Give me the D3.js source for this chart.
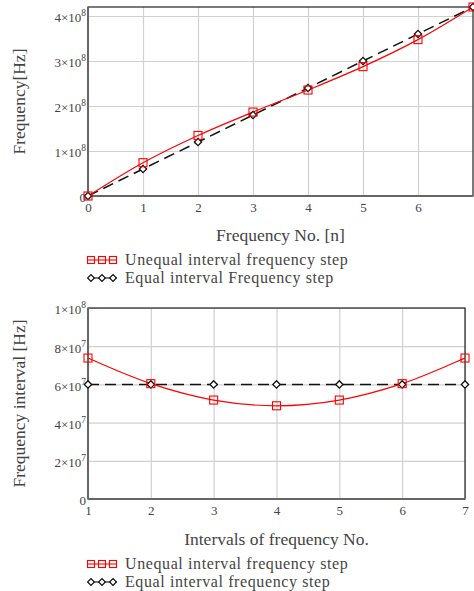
<!DOCTYPE html>
<html>
<head>
<meta charset="utf-8">
<script src="https://cdn.jsdelivr.net/npm/d3@7"></script>
<style>
  body { margin: 0; background: #fff; }
  text { font-family: "Liberation Serif", "DejaVu Serif", serif; fill: #444; }
</style>
</head>
<body>
<svg id="chart" width="474" height="591"></svg>
<script>
// === Data ===
const freqNo = [0, 1, 2, 3, 4, 5, 6, 7];
const unequalFreq = [0, 0.74e8, 1.345e8, 1.865e8, 2.355e8, 2.875e8, 3.475e8, 4.2e8];
const equalFreq = [0, 0.6e8, 1.2e8, 1.8e8, 2.4e8, 3.0e8, 3.6e8, 4.2e8];
const freqTicksY = [0, 1e8, 2e8, 3e8, 4e8];

const intervalNo = [1, 2, 3, 4, 5, 6, 7];
const unequalStep = [7.38e7, 6.04e7, 5.18e7, 4.88e7, 5.18e7, 6.04e7, 7.38e7];
const equalStep = [6e7, 6e7, 6e7, 6e7, 6e7, 6e7, 6e7];
const stepTicksY = [0, 2e7, 4e7, 6e7, 8e7, 1e8];

const svg = d3.select("#chart");

// "3×10^8" style labels with a raised exponent
function sciLabel(sel) {
  sel.each(function(d) {
    const t = d3.select(this).text("");
    if (d === 0) { t.text("0"); return; }
    const exp = Math.floor(Math.log10(d) + 1e-9);
    const mant = Math.round(d / Math.pow(10, exp));
    t.append("tspan").text(mant + "\u00d710");
    t.append("tspan").attr("dy", -6).style("font-size", "9.5px").text(exp);
  });
}

function drawPanel(cfg) {
  const { left, right, top, bottom } = cfg.box;
  const x = d3.scaleLinear().domain(cfg.xDomain).range([left, right]);
  const y = d3.scaleLinear().domain(cfg.yDomain).range([bottom, top]);
  const g = svg.append("g");

  // grid
  g.append("g").attr("transform", `translate(0,${bottom})`)
    .call(d3.axisBottom(x).tickValues(cfg.xTicks).tickSize(-(bottom - top)).tickFormat(""))
    .call(a => a.select(".domain").remove())
    .call(a => a.selectAll("line").attr("stroke", "#d0d0d0").attr("stroke-width", 1.2));
  g.append("g").attr("transform", `translate(${left},0)`)
    .call(d3.axisLeft(y).tickValues(cfg.yTicks).tickSize(-(right - left)).tickFormat(""))
    .call(a => a.select(".domain").remove())
    .call(a => a.selectAll("line").attr("stroke", "#d0d0d0").attr("stroke-width", 1.2));

  // frame
  g.append("rect").attr("x", left).attr("y", top).attr("width", right - left).attr("height", bottom - top)
    .attr("fill", "none").attr("stroke", "#222").attr("stroke-width", 1.2);
  g.append("line").attr("x1", left).attr("x2", left).attr("y1", top).attr("y2", bottom)
    .attr("stroke", "#666").attr("stroke-width", 2);
  g.append("line").attr("x1", left).attr("x2", right).attr("y1", bottom).attr("y2", bottom)
    .attr("stroke", "#666").attr("stroke-width", 2);

  // tick labels
  const xa = g.append("g").attr("transform", `translate(0,${bottom})`)
    .call(d3.axisBottom(x).tickValues(cfg.xTicks).tickSize(0).tickPadding(7).tickFormat(d3.format("d")));
  xa.select(".domain").remove();
  xa.selectAll("text").style("font-size", "13px").attr("fill", "#444")
    .style("font-family", "Liberation Serif, serif");

  const ya = g.append("g").attr("transform", `translate(${left},0)`)
    .call(d3.axisLeft(y).tickValues(cfg.yTicks).tickSize(0).tickPadding(2));
  ya.select(".domain").remove();
  ya.selectAll("text").style("font-size", "13px").attr("fill", "#444")
    .style("font-family", "Liberation Serif, serif").attr("dy", "0.45em").call(sciLabel);

  // axis titles
  svg.append("text").attr("x", (left + right) / 2).attr("y", cfg.xTitleY)
    .attr("text-anchor", "middle").style("font-size", "17.5px").text(cfg.xTitle);
  svg.append("text").attr("transform", `translate(25,${(top + bottom) / 2}) rotate(-90)`)
    .attr("text-anchor", "middle").style("font-size", "17.5px").text(cfg.yTitle);

  // series
  const redLine = d3.line().x((d, i) => x(cfg.xs[i])).y(d => y(d)).curve(d3.curveCatmullRom);
  const blackLine = d3.line().x((d, i) => x(cfg.xs[i])).y(d => y(d));

  g.append("path").datum(cfg.black).attr("d", blackLine).attr("fill", "none")
    .attr("stroke", "#111").attr("stroke-width", 1.5).attr("stroke-dasharray", "11,6");
  g.append("path").datum(cfg.red).attr("d", redLine).attr("fill", "none")
    .attr("stroke", "#f00").attr("stroke-width", 1.2);

  g.selectAll(".dia").data(cfg.black).enter().append("path")
    .attr("transform", (d, i) => `translate(${x(cfg.xs[i])},${y(d)}) rotate(45)`)
    .attr("d", "M-2.6,-2.6H2.6V2.6H-2.6Z")
    .attr("fill", "#fff").attr("stroke", "#111").attr("stroke-width", 1.3);
  g.selectAll(".sq").data(cfg.red).enter().append("rect")
    .attr("x", (d, i) => x(cfg.xs[i]) - 4).attr("y", d => y(d) - 4)
    .attr("width", 8).attr("height", 8)
    .attr("fill", "none").attr("stroke", "#f00").attr("stroke-width", 1.1);

  // legend
  const lg = svg.append("g");
  const entries = [
    { label: cfg.legend[0], kind: "sq", y: cfg.legendY },
    { label: cfg.legend[1], kind: "dia", y: cfg.legendY + 18 }
  ];
  entries.forEach(e => {
    const mx = [91, 102, 113];
    if (e.kind === "sq") {
      lg.append("line").attr("x1", 88).attr("x2", 117).attr("y1", e.y).attr("y2", e.y)
        .attr("stroke", "#f00").attr("stroke-width", 1.1);
      mx.forEach(m => lg.append("rect").attr("x", m - 3.5).attr("y", e.y - 3.5).attr("width", 7).attr("height", 7)
        .attr("fill", "none").attr("stroke", "#f00").attr("stroke-width", 1.1));
    } else {
      lg.append("line").attr("x1", 88).attr("x2", 117).attr("y1", e.y).attr("y2", e.y)
        .attr("stroke", "#111").attr("stroke-width", 1.1);
      mx.forEach(m => lg.append("path").attr("transform", `translate(${m},${e.y}) rotate(45)`)
        .attr("d", "M-2.4,-2.4H2.4V2.4H-2.4Z").attr("fill", "#fff").attr("stroke", "#111").attr("stroke-width", 1.2));
    }
    lg.append("text").attr("x", 125).attr("y", e.y + 5).style("font-size", "16px")
      .style("letter-spacing", "0.6px").text(e.label);
  });
}

drawPanel({
  box: { left: 88, right: 473, top: 7, bottom: 196 },
  xDomain: [0, 7], yDomain: [0, 4.2e8],
  xTicks: [0, 1, 2, 3, 4, 5, 6], yTicks: freqTicksY,
  xs: freqNo, red: unequalFreq, black: equalFreq,
  xTitle: "Frequency No. [n]", xTitleY: 241, yTitle: "Frequency[Hz]",
  legend: ["Unequal interval frequency step", "Equal interval Frequency step"], legendY: 260
});

drawPanel({
  box: { left: 88, right: 465, top: 308, bottom: 499 },
  xDomain: [1, 7], yDomain: [0, 1e8],
  xTicks: intervalNo, yTicks: stepTicksY,
  xs: intervalNo, red: unequalStep, black: equalStep,
  xTitle: "Intervals of frequency No.", xTitleY: 545, yTitle: "Frequency interval [Hz]",
  legend: ["Unequal interval frequency step", "Equal interval frequency step"], legendY: 564
});
</script>
</body>
</html>
